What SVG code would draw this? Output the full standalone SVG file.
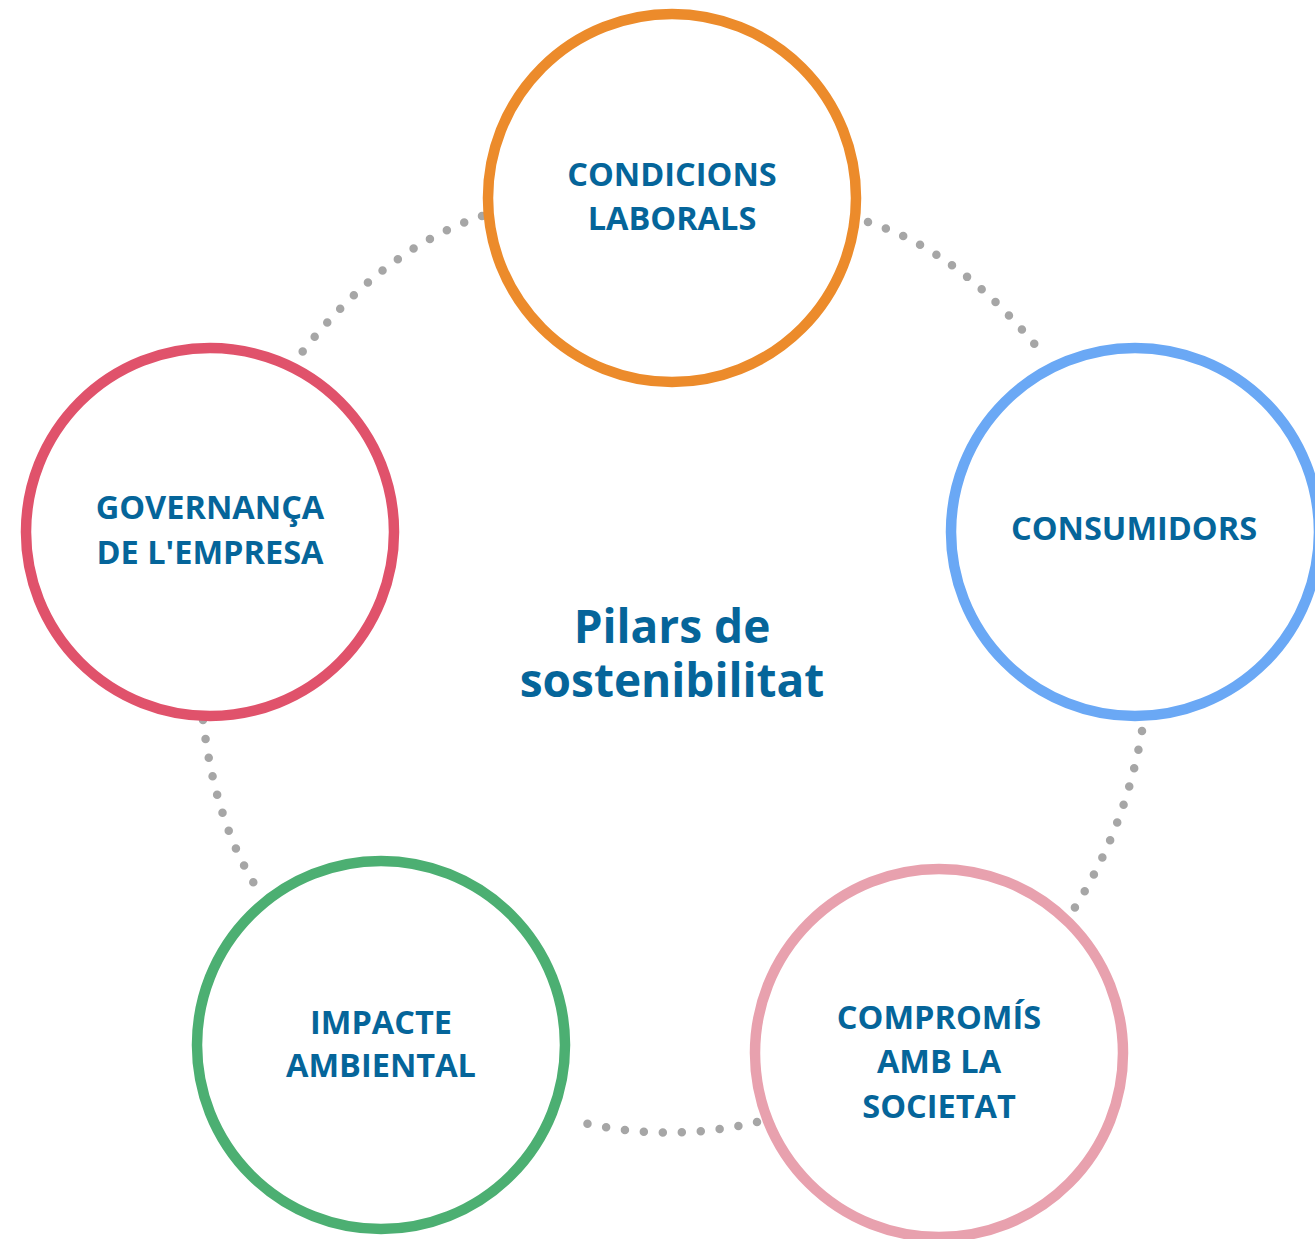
<svg xmlns="http://www.w3.org/2000/svg" width="1315" height="1239" viewBox="0 0 1315 1239">
<style>
.dots{fill:none;stroke:#a6a6a6;stroke-width:8.5;stroke-linecap:round;stroke-dasharray:0 19}
.ring{fill:#fff;stroke-width:10.5}
.lbl{font-family:"Open Sans","Noto Sans",sans-serif;font-weight:700;font-size:32.5px;fill:#05659a;text-anchor:middle}
.title{font-family:"Open Sans","Noto Sans",sans-serif;font-weight:700;font-size:46px;fill:#05659a;text-anchor:middle}
</style>
<rect width="1315" height="1239" fill="#fff"/>
<g id="connectors">
<path class="dots" d="M482,216 Q380,250 296,360"/>
<path class="dots" d="M868,222 Q962,252 1045,357"/>
<path class="dots" d="M1142,731 Q1125,830 1072,912"/>
<path class="dots" d="M757,1122 Q665,1144 572,1120"/>
<path class="dots" d="M203,720 Q215,820 255,885"/>
</g>
<g id="condicions">
<circle class="ring" cx="672" cy="198" r="184" stroke="#ec8b2b"/>
<text class="lbl" x="672" y="186">CONDICIONS</text>
<text class="lbl" x="672" y="230">LABORALS</text>
</g>
<g id="consumidors">
<circle class="ring" cx="1135" cy="532" r="184" stroke="#6aa8f5"/>
<text class="lbl" x="1134" y="540">CONSUMIDORS</text>
</g>
<g id="governanca">
<circle class="ring" cx="210" cy="532" r="184" stroke="#e0526b"/>
<text class="lbl" x="210" y="519">GOVERNANÇA</text>
<text class="lbl" x="210" y="564">DE L'EMPRESA</text>
</g>
<g id="impacte">
<circle class="ring" cx="381" cy="1045" r="184" stroke="#4caf72"/>
<text class="lbl" x="381" y="1034">IMPACTE</text>
<text class="lbl" x="381" y="1077">AMBIENTAL</text>
</g>
<g id="compromis">
<circle class="ring" cx="939" cy="1053" r="184" stroke="#e8a1ae"/>
<text class="lbl" x="939" y="1029">COMPROMÍS</text>
<text class="lbl" x="939" y="1073">AMB LA</text>
<text class="lbl" x="939" y="1118">SOCIETAT</text>
</g>
<g id="title">
<text class="title" x="672" y="643">Pilars de</text>
<text class="title" x="672" y="697">sostenibilitat</text>
</g>
</svg>
